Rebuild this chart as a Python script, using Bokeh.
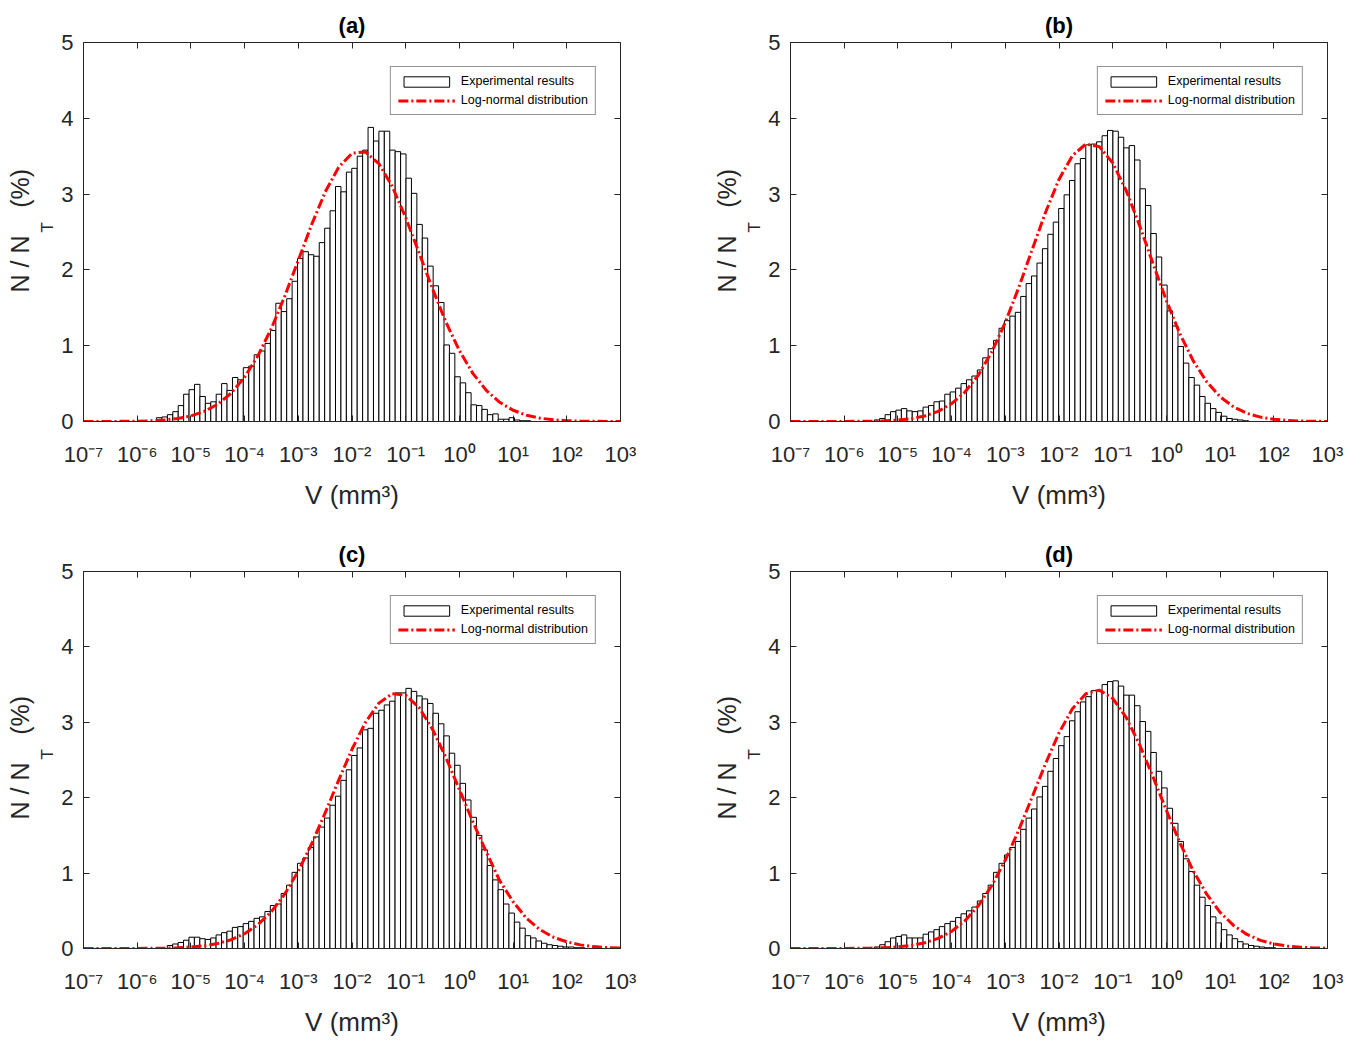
import numpy as np
from bokeh.plotting import figure
from bokeh.layouts import gridplot
from bokeh.models import (ColumnDataSource, FixedTicker, LogAxis, LinearAxis,
                          CustomJSTickFormatter, Title)
from bokeh.embed import file_html
from bokeh.resources import INLINE

FONT = "Liberation Sans"
AX_COLOR = "#262626"

# 各子图标题与坐标刻度
panel_names = ["(a)", "(b)", "(c)", "(d)"]
x_decades = list(range(-7, 4))
x_tick_labels = ["10\u207b\u2077", "10\u207b\u2076", "10\u207b\u2075", "10\u207b\u2074",
                 "10\u207b\u00b3", "10\u207b\u00b2", "10\u207b\u00b9", "10\u2070",
                 "10\u00b9", "10\u00b2", "10\u00b3"]
y_ticks = [0, 1, 2, 3, 4, 5]

# 直方图：log10(V) 等宽分箱，起点为第一个柱子左边缘
bin_width = 0.101
bin_start = [-5.64, -5.44, -5.44, -5.44]

counts_a = [0.05, 0.06, 0.09, 0.13, 0.21, 0.36, 0.42, 0.49, 0.33, 0.24, 0.26, 0.36,
            0.50, 0.41, 0.58, 0.55, 0.71, 0.73, 0.88, 0.93, 1.03, 1.20, 1.56, 1.45,
            1.62, 1.85, 2.15, 2.24, 2.20, 2.18, 2.36, 2.55, 2.78, 3.10, 3.03, 3.29,
            3.34, 3.50, 3.58, 3.88, 3.70, 3.83, 3.83, 3.58, 3.56, 3.53, 3.21, 3.01,
            2.60, 2.42, 2.05, 1.79, 1.57, 1.01, 0.90, 0.59, 0.51, 0.38, 0.22, 0.21,
            0.16, 0.09, 0.10, 0.03, 0.03, 0.05, 0.02, 0.01, 0.01]
counts_b = [0.02, 0.04, 0.09, 0.13, 0.15, 0.17, 0.14, 0.13, 0.14, 0.19, 0.21, 0.26,
            0.27, 0.36, 0.39, 0.44, 0.50, 0.55, 0.60, 0.68, 0.84, 0.96, 1.07, 1.23,
            1.33, 1.39, 1.44, 1.65, 1.82, 1.92, 2.09, 2.28, 2.47, 2.63, 2.81, 2.99,
            3.18, 3.40, 3.47, 3.65, 3.66, 3.69, 3.77, 3.84, 3.83, 3.75, 3.61, 3.64,
            3.45, 3.07, 2.85, 2.48, 2.17, 1.80, 1.46, 1.26, 0.99, 0.77, 0.58, 0.48,
            0.33, 0.24, 0.17, 0.12, 0.07, 0.04, 0.03, 0.02, 0.01]
counts_c = [0.04, 0.06, 0.08, 0.11, 0.15, 0.15, 0.13, 0.12, 0.14, 0.18, 0.21, 0.23,
            0.28, 0.29, 0.33, 0.36, 0.40, 0.42, 0.49, 0.57, 0.59, 0.73, 0.84, 1.01,
            1.13, 1.20, 1.34, 1.48, 1.61, 1.73, 1.90, 2.02, 2.23, 2.37, 2.56, 2.66,
            2.90, 2.92, 3.12, 3.16, 3.23, 3.28, 3.39, 3.39, 3.45, 3.41, 3.35, 3.31,
            3.25, 3.12, 2.98, 2.82, 2.59, 2.43, 2.19, 1.97, 1.74, 1.50, 1.31, 1.10,
            0.91, 0.78, 0.59, 0.47, 0.35, 0.27, 0.17, 0.14, 0.10, 0.07, 0.05, 0.04,
            0.03, 0.02, 0.02, 0.01, 0.01]
counts_d = [0.02, 0.05, 0.09, 0.14, 0.16, 0.18, 0.14, 0.14, 0.14, 0.19, 0.22, 0.25,
            0.29, 0.33, 0.36, 0.41, 0.46, 0.50, 0.55, 0.63, 0.73, 0.84, 1.01, 1.13,
            1.24, 1.34, 1.42, 1.58, 1.73, 1.85, 2.01, 2.15, 2.35, 2.52, 2.69, 2.81,
            3.02, 3.14, 3.27, 3.34, 3.42, 3.42, 3.50, 3.54, 3.55, 3.48, 3.36, 3.36,
            3.22, 3.01, 2.88, 2.60, 2.35, 2.13, 1.86, 1.66, 1.42, 1.19, 1.02, 0.84,
            0.68, 0.57, 0.42, 0.34, 0.25, 0.18, 0.13, 0.09, 0.06, 0.04, 0.03, 0.02,
            0.01, 0.01]

# 对数正态拟合曲线，按 log10(V) = -7 … 3（步长 0.25）读取
curve_log_v = np.arange(-7, 3.001, 0.25)
fit_a = [0.000, 0.000, 0.001, 0.002, 0.004, 0.009, 0.019, 0.039, 0.073, 0.133, 0.228,
         0.374, 0.584, 0.869, 1.230, 1.657, 2.127, 2.600, 3.026, 3.353, 3.539, 3.556,
         3.403, 3.101, 2.690, 2.223, 1.749, 1.310, 0.935, 0.635, 0.411, 0.253, 0.148,
         0.083, 0.044, 0.022, 0.011, 0.005, 0.002, 0.001, 0.000]
fit_b = [0.000, 0.000, 0.000, 0.000, 0.001, 0.002, 0.004, 0.009, 0.018, 0.038, 0.073,
         0.134, 0.235, 0.389, 0.614, 0.920, 1.308, 1.767, 2.267, 2.761, 3.194, 3.508,
         3.660, 3.626, 3.412, 3.049, 2.587, 2.085, 1.595, 1.159, 0.800, 0.524, 0.326,
         0.193, 0.108, 0.058, 0.029, 0.014, 0.006, 0.003, 0.001]
fit_c = [0.000, 0.000, 0.000, 0.000, 0.001, 0.002, 0.004, 0.009, 0.019, 0.036, 0.066,
         0.116, 0.197, 0.317, 0.490, 0.725, 1.026, 1.389, 1.798, 2.229, 2.642, 2.998,
         3.254, 3.380, 3.359, 3.195, 2.907, 2.531, 2.108, 1.680, 1.281, 0.900, 0.620,
         0.400, 0.250, 0.150, 0.088, 0.048, 0.025, 0.012, 0.006]
fit_d = [0.000, 0.000, 0.000, 0.000, 0.001, 0.002, 0.005, 0.010, 0.021, 0.041, 0.076,
         0.135, 0.228, 0.369, 0.568, 0.835, 1.172, 1.570, 2.009, 2.453, 2.859, 3.181,
         3.379, 3.427, 3.317, 3.065, 2.704, 2.277, 1.831, 1.405, 1.029, 0.720, 0.480,
         0.306, 0.186, 0.108, 0.060, 0.032, 0.016, 0.008, 0.004]

all_counts = [counts_a, counts_b, counts_c, counts_d]
all_fits = [fit_a, fit_b, fit_c, fit_d]


def style_axis(ax, show_labels):
    ax.axis_line_color = AX_COLOR
    ax.major_tick_line_color = AX_COLOR
    ax.major_tick_in = 6
    ax.major_tick_out = 0
    ax.minor_tick_in = 0
    ax.minor_tick_out = 0
    ax.major_label_text_font = FONT
    ax.major_label_text_color = AX_COLOR
    if show_labels:
        ax.major_label_text_font_size = "22px"
    else:
        ax.major_label_text_font_size = "0px"
        ax.major_label_standoff = 0


def make_panel(i, width, height, border_right, border_top, border_bottom):
    counts = all_counts[i]
    p = figure(width=width, height=height, x_axis_type="log",
               x_range=(1e-7, 1e3), y_range=(0, 5),
               output_backend="svg", toolbar_location=None,
               min_border_left=83, min_border_right=border_right,
               min_border_top=border_top, min_border_bottom=border_bottom)

    edges = bin_start[i] + bin_width * np.arange(len(counts) + 1)
    src = ColumnDataSource(data={
        'left': 10.0 ** edges[:-1],
        'right': 10.0 ** edges[1:],
        'top': counts,
    })
    p.quad(left='left', right='right', bottom=0, top='top', source=src,
           fill_color="white", line_color="black", line_width=1,
           legend_label="Experimental results")
    p.line(10.0 ** curve_log_v, all_fits[i], line_color="#ff0000", line_width=3,
           line_dash="10 3 2 3", legend_label="Log-normal distribution")

    xt = [10.0 ** k for k in x_decades]
    bottom = p.below[0]
    left = p.left[0]
    bottom.ticker = FixedTicker(ticks=xt, minor_ticks=[])
    bottom.formatter = CustomJSTickFormatter(
        args=dict(labels=x_tick_labels, exps=x_decades),
        code="""
            const k = Math.round(Math.log10(tick));
            const i = exps.indexOf(k);
            return i >= 0 ? labels[i] : '';
        """)
    left.ticker = FixedTicker(ticks=y_ticks, minor_ticks=[])
    top = LogAxis(ticker=FixedTicker(ticks=xt, minor_ticks=[]),
                  formatter=CustomJSTickFormatter(code="return ''"))
    right = LinearAxis(ticker=FixedTicker(ticks=y_ticks, minor_ticks=[]),
                       formatter=CustomJSTickFormatter(code="return ''"))
    p.add_layout(top, "above")
    p.add_layout(right, "right")
    style_axis(bottom, True)
    style_axis(left, True)
    style_axis(top, False)
    style_axis(right, False)

    bottom.major_label_standoff = 20
    left.major_label_standoff = 10
    bottom.axis_label = "V (mm\u00b3)"
    bottom.axis_label_text_font = FONT
    bottom.axis_label_text_font_size = "26px"
    bottom.axis_label_text_font_style = "normal"
    bottom.axis_label_text_color = AX_COLOR
    bottom.axis_label_standoff = 10

    # y 轴标题：N / N_T (%)，下标 T 单独一层
    p.add_layout(Title(text="T", align="left", offset=189, standoff=4,
                       text_font=FONT, text_font_size="17px",
                       text_font_style="normal", text_color=AX_COLOR), "left")
    p.add_layout(Title(text="N / N\u00a0\u00a0\u00a0\u00a0(%)", align="left", offset=129,
                       standoff=0, text_font=FONT, text_font_size="25px",
                       text_font_style="normal", text_color=AX_COLOR), "left")

    p.title.text = panel_names[i]
    p.title.align = "center"
    p.title.text_font = FONT
    p.title.text_font_size = "22px"
    p.title.text_font_style = "bold"
    p.title.text_color = "black"
    p.title.standoff = 9

    p.xgrid.visible = False
    p.ygrid.visible = False
    p.outline_line_color = AX_COLOR
    p.background_fill_color = "white"
    p.border_fill_color = "white"

    lg = p.legend[0]
    lg.location = "top_right"
    lg.margin = 24
    lg.padding = 7
    lg.spacing = 5
    lg.glyph_width = 57
    lg.glyph_height = 13
    lg.label_height = 13
    lg.label_standoff = 6
    lg.label_text_font = FONT
    lg.label_text_font_size = "12.5px"
    lg.label_text_color = "black"
    lg.border_line_color = AX_COLOR
    lg.border_line_width = 1
    lg.background_fill_color = "white"
    lg.background_fill_alpha = 1.0
    return p


pa = make_panel(0, 707, 535, 87, 42, 114)
pb = make_panel(1, 653, 535, 33, 42, 114)
pc = make_panel(2, 707, 515, 87, 34, 102)
pd = make_panel(3, 653, 515, 33, 34, 102)

grid = gridplot([[pa, pb], [pc, pd]], toolbar_location=None)

with open("out.html", "w") as f:
    f.write(file_html(grid, INLINE))
